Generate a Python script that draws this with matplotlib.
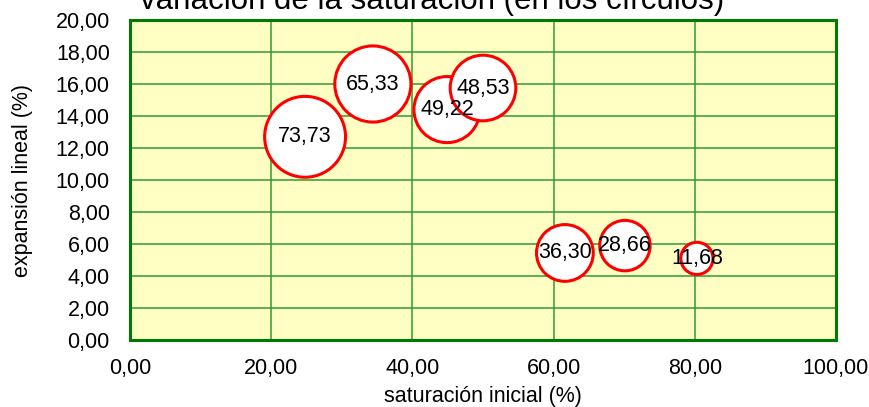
import matplotlib
matplotlib.use("Agg")
import matplotlib.pyplot as plt
from matplotlib.ticker import FuncFormatter

saturacion = [24.8, 34.4, 44.9, 50.0, 61.6, 70.1, 80.3]
expansion = [12.7, 16.0, 14.4, 15.75, 5.44, 5.9, 5.1]
variacion = [73.73, 65.33, 49.22, 48.53, 36.30, 28.66, 11.68]
x_ticks = [0, 20, 40, 60, 80, 100]
y_ticks = [0, 2, 4, 6, 8, 10, 12, 14, 16, 18, 20]

plt.rcParams['font.family'] = ['Liberation Sans', 'DejaVu Sans']

fig = plt.figure(figsize=(8.7, 4.07), dpi=100)
ax = fig.add_axes([130/870, 1-340/407, (836-130)/870, (340-20)/407])
ax.set_facecolor('#FFFFC4')

ax.scatter(saturacion, expansion, s=[46*v for v in variacion], facecolor='white',
           edgecolor='#FF0000', linewidth=2.2, zorder=3)
for x, y, v in zip(saturacion, expansion, variacion):
    ax.text(x, y, f"{v:.2f}".replace('.', ','), ha='center', va='center',
            fontsize=15.5, color='black', zorder=5)

ax.set_xlim(0, 100)
ax.set_ylim(0, 20)
ax.set_xticks(x_ticks)
ax.set_yticks(y_ticks)
fmt = FuncFormatter(lambda v, p: f"{v:.2f}".replace('.', ','))
ax.xaxis.set_major_formatter(fmt)
ax.yaxis.set_major_formatter(fmt)
ax.tick_params(length=0, labelsize=15.5)
ax.tick_params(axis='y', pad=14.5)
ax.tick_params(axis='x', pad=13)
ax.grid(True, color='#2E9B2E', linewidth=1.1, zorder=1)
ax.set_axisbelow(True)
for sp in ax.spines.values():
    sp.set_color('#007A00')
    sp.set_linewidth(2.2)

ax.set_xlabel('saturación inicial (%)', fontsize=15.5, labelpad=5)
ax.set_ylabel('expansión lineal (%)', fontsize=15.5, labelpad=16)
fig.text(432/870, 1-9/407, 'variación de la saturación (en los círculos)',
         ha='center', va='baseline', fontsize=22.5)

fig.savefig('out.png', dpi=100)
